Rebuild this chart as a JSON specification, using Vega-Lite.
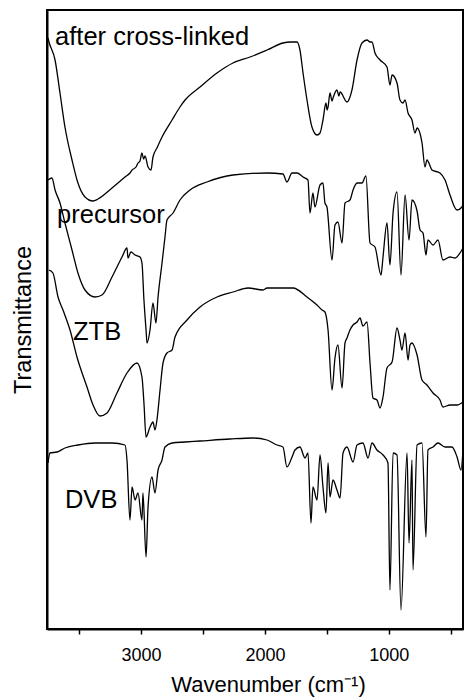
{
  "$schema": "https://vega.github.io/schema/vega-lite/v6.json",
  "width": 416,
  "height": 619,
  "autosize": {"type": "none"},
  "padding": {"left": 47, "top": 10, "right": 1, "bottom": 68},
  "background": "white",
  "config": {
    "view": {"stroke": "black", "strokeWidth": 2},
    "font": "Liberation Sans",
    "axis": {"grid": false, "domainColor": "black", "domainWidth": 2, "tickColor": "black", "labelColor": "black", "titleColor": "black", "titleFontWeight": "normal", "labelFont": "Liberation Sans", "titleFont": "Liberation Sans"}
  },
  "datasets": {
    "spectra": [
      {"sample": "after cross-linked", "wavenumber": 3752, "T": 591},
      {"sample": "after cross-linked", "wavenumber": 3744, "T": 587},
      {"sample": "after cross-linked", "wavenumber": 3695, "T": 569},
      {"sample": "after cross-linked", "wavenumber": 3655, "T": 536},
      {"sample": "after cross-linked", "wavenumber": 3615, "T": 502},
      {"sample": "after cross-linked", "wavenumber": 3558, "T": 469},
      {"sample": "after cross-linked", "wavenumber": 3510, "T": 446},
      {"sample": "after cross-linked", "wavenumber": 3453, "T": 432},
      {"sample": "after cross-linked", "wavenumber": 3388, "T": 428},
      {"sample": "after cross-linked", "wavenumber": 3348, "T": 430},
      {"sample": "after cross-linked", "wavenumber": 3235, "T": 441},
      {"sample": "after cross-linked", "wavenumber": 3130, "T": 452},
      {"sample": "after cross-linked", "wavenumber": 3090, "T": 456},
      {"sample": "after cross-linked", "wavenumber": 3073, "T": 459},
      {"sample": "after cross-linked", "wavenumber": 3041, "T": 462},
      {"sample": "after cross-linked", "wavenumber": 3025, "T": 466},
      {"sample": "after cross-linked", "wavenumber": 3009, "T": 468},
      {"sample": "after cross-linked", "wavenumber": 2993, "T": 476},
      {"sample": "after cross-linked", "wavenumber": 2980, "T": 470},
      {"sample": "after cross-linked", "wavenumber": 2968, "T": 473},
      {"sample": "after cross-linked", "wavenumber": 2944, "T": 462},
      {"sample": "after cross-linked", "wavenumber": 2920, "T": 459},
      {"sample": "after cross-linked", "wavenumber": 2904, "T": 472},
      {"sample": "after cross-linked", "wavenumber": 2872, "T": 481},
      {"sample": "after cross-linked", "wavenumber": 2831, "T": 492},
      {"sample": "after cross-linked", "wavenumber": 2750, "T": 509},
      {"sample": "after cross-linked", "wavenumber": 2686, "T": 522},
      {"sample": "after cross-linked", "wavenumber": 2645, "T": 529},
      {"sample": "after cross-linked", "wavenumber": 2524, "T": 542},
      {"sample": "after cross-linked", "wavenumber": 2387, "T": 556},
      {"sample": "after cross-linked", "wavenumber": 2258, "T": 566},
      {"sample": "after cross-linked", "wavenumber": 2120, "T": 572},
      {"sample": "after cross-linked", "wavenumber": 1983, "T": 579},
      {"sample": "after cross-linked", "wavenumber": 1854, "T": 586},
      {"sample": "after cross-linked", "wavenumber": 1797, "T": 587},
      {"sample": "after cross-linked", "wavenumber": 1741, "T": 587},
      {"sample": "after cross-linked", "wavenumber": 1717, "T": 579},
      {"sample": "after cross-linked", "wavenumber": 1692, "T": 556},
      {"sample": "after cross-linked", "wavenumber": 1660, "T": 529},
      {"sample": "after cross-linked", "wavenumber": 1620, "T": 502},
      {"sample": "after cross-linked", "wavenumber": 1579, "T": 494},
      {"sample": "after cross-linked", "wavenumber": 1555, "T": 496},
      {"sample": "after cross-linked", "wavenumber": 1531, "T": 509},
      {"sample": "after cross-linked", "wavenumber": 1507, "T": 526},
      {"sample": "after cross-linked", "wavenumber": 1498, "T": 519},
      {"sample": "after cross-linked", "wavenumber": 1490, "T": 522},
      {"sample": "after cross-linked", "wavenumber": 1474, "T": 536},
      {"sample": "after cross-linked", "wavenumber": 1458, "T": 528},
      {"sample": "after cross-linked", "wavenumber": 1450, "T": 531},
      {"sample": "after cross-linked", "wavenumber": 1418, "T": 539},
      {"sample": "after cross-linked", "wavenumber": 1402, "T": 533},
      {"sample": "after cross-linked", "wavenumber": 1393, "T": 537},
      {"sample": "after cross-linked", "wavenumber": 1337, "T": 527},
      {"sample": "after cross-linked", "wavenumber": 1297, "T": 539},
      {"sample": "after cross-linked", "wavenumber": 1256, "T": 569},
      {"sample": "after cross-linked", "wavenumber": 1216, "T": 586},
      {"sample": "after cross-linked", "wavenumber": 1175, "T": 589},
      {"sample": "after cross-linked", "wavenumber": 1151, "T": 587},
      {"sample": "after cross-linked", "wavenumber": 1135, "T": 587},
      {"sample": "after cross-linked", "wavenumber": 1111, "T": 576},
      {"sample": "after cross-linked", "wavenumber": 1070, "T": 569},
      {"sample": "after cross-linked", "wavenumber": 1014, "T": 562},
      {"sample": "after cross-linked", "wavenumber": 990, "T": 544},
      {"sample": "after cross-linked", "wavenumber": 973, "T": 554},
      {"sample": "after cross-linked", "wavenumber": 933, "T": 546},
      {"sample": "after cross-linked", "wavenumber": 909, "T": 529},
      {"sample": "after cross-linked", "wavenumber": 885, "T": 526},
      {"sample": "after cross-linked", "wavenumber": 868, "T": 529},
      {"sample": "after cross-linked", "wavenumber": 844, "T": 516},
      {"sample": "after cross-linked", "wavenumber": 812, "T": 509},
      {"sample": "after cross-linked", "wavenumber": 788, "T": 496},
      {"sample": "after cross-linked", "wavenumber": 771, "T": 501},
      {"sample": "after cross-linked", "wavenumber": 731, "T": 486},
      {"sample": "after cross-linked", "wavenumber": 707, "T": 462},
      {"sample": "after cross-linked", "wavenumber": 691, "T": 469},
      {"sample": "after cross-linked", "wavenumber": 650, "T": 459},
      {"sample": "after cross-linked", "wavenumber": 586, "T": 456},
      {"sample": "after cross-linked", "wavenumber": 545, "T": 449},
      {"sample": "after cross-linked", "wavenumber": 505, "T": 434},
      {"sample": "after cross-linked", "wavenumber": 448, "T": 419},
      {"sample": "after cross-linked", "wavenumber": 408, "T": 422},
      {"sample": "after cross-linked", "wavenumber": 400, "T": 426},

      {"sample": "precursor", "wavenumber": 3752, "T": 449},
      {"sample": "precursor", "wavenumber": 3720, "T": 451},
      {"sample": "precursor", "wavenumber": 3695, "T": 439},
      {"sample": "precursor", "wavenumber": 3655, "T": 426},
      {"sample": "precursor", "wavenumber": 3615, "T": 406},
      {"sample": "precursor", "wavenumber": 3558, "T": 379},
      {"sample": "precursor", "wavenumber": 3510, "T": 356},
      {"sample": "precursor", "wavenumber": 3453, "T": 339},
      {"sample": "precursor", "wavenumber": 3372, "T": 332},
      {"sample": "precursor", "wavenumber": 3316, "T": 334},
      {"sample": "precursor", "wavenumber": 3235, "T": 352},
      {"sample": "precursor", "wavenumber": 3154, "T": 372},
      {"sample": "precursor", "wavenumber": 3114, "T": 381},
      {"sample": "precursor", "wavenumber": 3106, "T": 371},
      {"sample": "precursor", "wavenumber": 3082, "T": 377},
      {"sample": "precursor", "wavenumber": 3049, "T": 374},
      {"sample": "precursor", "wavenumber": 3009, "T": 372},
      {"sample": "precursor", "wavenumber": 2993, "T": 366},
      {"sample": "precursor", "wavenumber": 2977, "T": 329},
      {"sample": "precursor", "wavenumber": 2960, "T": 299},
      {"sample": "precursor", "wavenumber": 2952, "T": 286},
      {"sample": "precursor", "wavenumber": 2928, "T": 299},
      {"sample": "precursor", "wavenumber": 2904, "T": 326},
      {"sample": "precursor", "wavenumber": 2880, "T": 306},
      {"sample": "precursor", "wavenumber": 2863, "T": 332},
      {"sample": "precursor", "wavenumber": 2831, "T": 366},
      {"sample": "precursor", "wavenumber": 2807, "T": 392},
      {"sample": "precursor", "wavenumber": 2791, "T": 409},
      {"sample": "precursor", "wavenumber": 2742, "T": 416},
      {"sample": "precursor", "wavenumber": 2686, "T": 429},
      {"sample": "precursor", "wavenumber": 2605, "T": 439},
      {"sample": "precursor", "wavenumber": 2468, "T": 447},
      {"sample": "precursor", "wavenumber": 2258, "T": 454},
      {"sample": "precursor", "wavenumber": 1983, "T": 456},
      {"sample": "precursor", "wavenumber": 1854, "T": 455},
      {"sample": "precursor", "wavenumber": 1822, "T": 447},
      {"sample": "precursor", "wavenumber": 1781, "T": 456},
      {"sample": "precursor", "wavenumber": 1741, "T": 456},
      {"sample": "precursor", "wavenumber": 1692, "T": 452},
      {"sample": "precursor", "wavenumber": 1652, "T": 449},
      {"sample": "precursor", "wavenumber": 1636, "T": 416},
      {"sample": "precursor", "wavenumber": 1612, "T": 436},
      {"sample": "precursor", "wavenumber": 1596, "T": 422},
      {"sample": "precursor", "wavenumber": 1555, "T": 444},
      {"sample": "precursor", "wavenumber": 1531, "T": 446},
      {"sample": "precursor", "wavenumber": 1515, "T": 426},
      {"sample": "precursor", "wavenumber": 1499, "T": 422},
      {"sample": "precursor", "wavenumber": 1458, "T": 369},
      {"sample": "precursor", "wavenumber": 1434, "T": 404},
      {"sample": "precursor", "wavenumber": 1410, "T": 407},
      {"sample": "precursor", "wavenumber": 1377, "T": 386},
      {"sample": "precursor", "wavenumber": 1353, "T": 426},
      {"sample": "precursor", "wavenumber": 1313, "T": 429},
      {"sample": "precursor", "wavenumber": 1288, "T": 439},
      {"sample": "precursor", "wavenumber": 1256, "T": 446},
      {"sample": "precursor", "wavenumber": 1216, "T": 446},
      {"sample": "precursor", "wavenumber": 1184, "T": 453},
      {"sample": "precursor", "wavenumber": 1151, "T": 386},
      {"sample": "precursor", "wavenumber": 1111, "T": 382},
      {"sample": "precursor", "wavenumber": 1062, "T": 354},
      {"sample": "precursor", "wavenumber": 1046, "T": 372},
      {"sample": "precursor", "wavenumber": 1014, "T": 406},
      {"sample": "precursor", "wavenumber": 990, "T": 364},
      {"sample": "precursor", "wavenumber": 965, "T": 416},
      {"sample": "precursor", "wavenumber": 933, "T": 437},
      {"sample": "precursor", "wavenumber": 901, "T": 354},
      {"sample": "precursor", "wavenumber": 868, "T": 434},
      {"sample": "precursor", "wavenumber": 836, "T": 389},
      {"sample": "precursor", "wavenumber": 812, "T": 429},
      {"sample": "precursor", "wavenumber": 771, "T": 418},
      {"sample": "precursor", "wavenumber": 747, "T": 399},
      {"sample": "precursor", "wavenumber": 723, "T": 396},
      {"sample": "precursor", "wavenumber": 699, "T": 374},
      {"sample": "precursor", "wavenumber": 683, "T": 389},
      {"sample": "precursor", "wavenumber": 642, "T": 384},
      {"sample": "precursor", "wavenumber": 602, "T": 389},
      {"sample": "precursor", "wavenumber": 562, "T": 369},
      {"sample": "precursor", "wavenumber": 505, "T": 372},
      {"sample": "precursor", "wavenumber": 464, "T": 371},
      {"sample": "precursor", "wavenumber": 424, "T": 376},
      {"sample": "precursor", "wavenumber": 400, "T": 381},

      {"sample": "ZTB", "wavenumber": 3744, "T": 359},
      {"sample": "ZTB", "wavenumber": 3712, "T": 356},
      {"sample": "ZTB", "wavenumber": 3671, "T": 332},
      {"sample": "ZTB", "wavenumber": 3631, "T": 319},
      {"sample": "ZTB", "wavenumber": 3574, "T": 299},
      {"sample": "ZTB", "wavenumber": 3518, "T": 272},
      {"sample": "ZTB", "wavenumber": 3437, "T": 242},
      {"sample": "ZTB", "wavenumber": 3388, "T": 224},
      {"sample": "ZTB", "wavenumber": 3332, "T": 213},
      {"sample": "ZTB", "wavenumber": 3275, "T": 216},
      {"sample": "ZTB", "wavenumber": 3195, "T": 236},
      {"sample": "ZTB", "wavenumber": 3114, "T": 256},
      {"sample": "ZTB", "wavenumber": 3033, "T": 266},
      {"sample": "ZTB", "wavenumber": 2993, "T": 252},
      {"sample": "ZTB", "wavenumber": 2977, "T": 226},
      {"sample": "ZTB", "wavenumber": 2960, "T": 192},
      {"sample": "ZTB", "wavenumber": 2928, "T": 202},
      {"sample": "ZTB", "wavenumber": 2904, "T": 207},
      {"sample": "ZTB", "wavenumber": 2888, "T": 199},
      {"sample": "ZTB", "wavenumber": 2872, "T": 209},
      {"sample": "ZTB", "wavenumber": 2847, "T": 239},
      {"sample": "ZTB", "wavenumber": 2823, "T": 266},
      {"sample": "ZTB", "wavenumber": 2791, "T": 276},
      {"sample": "ZTB", "wavenumber": 2750, "T": 279},
      {"sample": "ZTB", "wavenumber": 2726, "T": 292},
      {"sample": "ZTB", "wavenumber": 2629, "T": 309},
      {"sample": "ZTB", "wavenumber": 2524, "T": 322},
      {"sample": "ZTB", "wavenumber": 2387, "T": 332},
      {"sample": "ZTB", "wavenumber": 2258, "T": 337},
      {"sample": "ZTB", "wavenumber": 2136, "T": 341},
      {"sample": "ZTB", "wavenumber": 2015, "T": 339},
      {"sample": "ZTB", "wavenumber": 1983, "T": 341},
      {"sample": "ZTB", "wavenumber": 1773, "T": 341},
      {"sample": "ZTB", "wavenumber": 1660, "T": 332},
      {"sample": "ZTB", "wavenumber": 1579, "T": 324},
      {"sample": "ZTB", "wavenumber": 1539, "T": 319},
      {"sample": "ZTB", "wavenumber": 1515, "T": 317},
      {"sample": "ZTB", "wavenumber": 1490, "T": 299},
      {"sample": "ZTB", "wavenumber": 1458, "T": 239},
      {"sample": "ZTB", "wavenumber": 1434, "T": 271},
      {"sample": "ZTB", "wavenumber": 1410, "T": 284},
      {"sample": "ZTB", "wavenumber": 1377, "T": 241},
      {"sample": "ZTB", "wavenumber": 1353, "T": 286},
      {"sample": "ZTB", "wavenumber": 1337, "T": 291},
      {"sample": "ZTB", "wavenumber": 1313, "T": 299},
      {"sample": "ZTB", "wavenumber": 1288, "T": 304},
      {"sample": "ZTB", "wavenumber": 1256, "T": 307},
      {"sample": "ZTB", "wavenumber": 1232, "T": 311},
      {"sample": "ZTB", "wavenumber": 1208, "T": 303},
      {"sample": "ZTB", "wavenumber": 1175, "T": 307},
      {"sample": "ZTB", "wavenumber": 1151, "T": 266},
      {"sample": "ZTB", "wavenumber": 1127, "T": 231},
      {"sample": "ZTB", "wavenumber": 1095, "T": 229},
      {"sample": "ZTB", "wavenumber": 1070, "T": 221},
      {"sample": "ZTB", "wavenumber": 1046, "T": 232},
      {"sample": "ZTB", "wavenumber": 1014, "T": 261},
      {"sample": "ZTB", "wavenumber": 973, "T": 267},
      {"sample": "ZTB", "wavenumber": 933, "T": 301},
      {"sample": "ZTB", "wavenumber": 909, "T": 289},
      {"sample": "ZTB", "wavenumber": 893, "T": 279},
      {"sample": "ZTB", "wavenumber": 868, "T": 296},
      {"sample": "ZTB", "wavenumber": 844, "T": 269},
      {"sample": "ZTB", "wavenumber": 828, "T": 284},
      {"sample": "ZTB", "wavenumber": 812, "T": 286},
      {"sample": "ZTB", "wavenumber": 771, "T": 274},
      {"sample": "ZTB", "wavenumber": 731, "T": 249},
      {"sample": "ZTB", "wavenumber": 691, "T": 244},
      {"sample": "ZTB", "wavenumber": 642, "T": 236},
      {"sample": "ZTB", "wavenumber": 586, "T": 229},
      {"sample": "ZTB", "wavenumber": 562, "T": 222},
      {"sample": "ZTB", "wavenumber": 505, "T": 224},
      {"sample": "ZTB", "wavenumber": 448, "T": 224},
      {"sample": "ZTB", "wavenumber": 400, "T": 227},

      {"sample": "DVB", "wavenumber": 3752, "T": 166},
      {"sample": "DVB", "wavenumber": 3736, "T": 176},
      {"sample": "DVB", "wavenumber": 3679, "T": 177},
      {"sample": "DVB", "wavenumber": 3615, "T": 181},
      {"sample": "DVB", "wavenumber": 3510, "T": 184},
      {"sample": "DVB", "wavenumber": 3372, "T": 186},
      {"sample": "DVB", "wavenumber": 3235, "T": 186},
      {"sample": "DVB", "wavenumber": 3130, "T": 184},
      {"sample": "DVB", "wavenumber": 3114, "T": 169},
      {"sample": "DVB", "wavenumber": 3090, "T": 109},
      {"sample": "DVB", "wavenumber": 3073, "T": 142},
      {"sample": "DVB", "wavenumber": 3049, "T": 129},
      {"sample": "DVB", "wavenumber": 3025, "T": 136},
      {"sample": "DVB", "wavenumber": 2993, "T": 109},
      {"sample": "DVB", "wavenumber": 2985, "T": 136},
      {"sample": "DVB", "wavenumber": 2960, "T": 72},
      {"sample": "DVB", "wavenumber": 2944, "T": 122},
      {"sample": "DVB", "wavenumber": 2912, "T": 152},
      {"sample": "DVB", "wavenumber": 2888, "T": 136},
      {"sample": "DVB", "wavenumber": 2863, "T": 159},
      {"sample": "DVB", "wavenumber": 2831, "T": 169},
      {"sample": "DVB", "wavenumber": 2807, "T": 182},
      {"sample": "DVB", "wavenumber": 2750, "T": 186},
      {"sample": "DVB", "wavenumber": 2645, "T": 187},
      {"sample": "DVB", "wavenumber": 2524, "T": 188},
      {"sample": "DVB", "wavenumber": 2282, "T": 190},
      {"sample": "DVB", "wavenumber": 2096, "T": 191},
      {"sample": "DVB", "wavenumber": 1983, "T": 189},
      {"sample": "DVB", "wavenumber": 1902, "T": 184},
      {"sample": "DVB", "wavenumber": 1854, "T": 182},
      {"sample": "DVB", "wavenumber": 1822, "T": 162},
      {"sample": "DVB", "wavenumber": 1781, "T": 172},
      {"sample": "DVB", "wavenumber": 1757, "T": 179},
      {"sample": "DVB", "wavenumber": 1717, "T": 182},
      {"sample": "DVB", "wavenumber": 1676, "T": 171},
      {"sample": "DVB", "wavenumber": 1652, "T": 176},
      {"sample": "DVB", "wavenumber": 1628, "T": 106},
      {"sample": "DVB", "wavenumber": 1612, "T": 142},
      {"sample": "DVB", "wavenumber": 1579, "T": 129},
      {"sample": "DVB", "wavenumber": 1555, "T": 174},
      {"sample": "DVB", "wavenumber": 1531, "T": 142},
      {"sample": "DVB", "wavenumber": 1507, "T": 116},
      {"sample": "DVB", "wavenumber": 1490, "T": 166},
      {"sample": "DVB", "wavenumber": 1474, "T": 132},
      {"sample": "DVB", "wavenumber": 1450, "T": 149},
      {"sample": "DVB", "wavenumber": 1418, "T": 139},
      {"sample": "DVB", "wavenumber": 1393, "T": 131},
      {"sample": "DVB", "wavenumber": 1369, "T": 176},
      {"sample": "DVB", "wavenumber": 1337, "T": 182},
      {"sample": "DVB", "wavenumber": 1288, "T": 167},
      {"sample": "DVB", "wavenumber": 1256, "T": 184},
      {"sample": "DVB", "wavenumber": 1208, "T": 186},
      {"sample": "DVB", "wavenumber": 1167, "T": 171},
      {"sample": "DVB", "wavenumber": 1135, "T": 186},
      {"sample": "DVB", "wavenumber": 1095, "T": 179},
      {"sample": "DVB", "wavenumber": 1046, "T": 174},
      {"sample": "DVB", "wavenumber": 1006, "T": 166},
      {"sample": "DVB", "wavenumber": 990, "T": 39},
      {"sample": "DVB", "wavenumber": 965, "T": 176},
      {"sample": "DVB", "wavenumber": 933, "T": 174},
      {"sample": "DVB", "wavenumber": 901, "T": 19},
      {"sample": "DVB", "wavenumber": 852, "T": 176},
      {"sample": "DVB", "wavenumber": 836, "T": 86},
      {"sample": "DVB", "wavenumber": 812, "T": 169},
      {"sample": "DVB", "wavenumber": 804, "T": 59},
      {"sample": "DVB", "wavenumber": 771, "T": 184},
      {"sample": "DVB", "wavenumber": 731, "T": 186},
      {"sample": "DVB", "wavenumber": 699, "T": 92},
      {"sample": "DVB", "wavenumber": 683, "T": 179},
      {"sample": "DVB", "wavenumber": 642, "T": 182},
      {"sample": "DVB", "wavenumber": 602, "T": 186},
      {"sample": "DVB", "wavenumber": 545, "T": 182},
      {"sample": "DVB", "wavenumber": 489, "T": 182},
      {"sample": "DVB", "wavenumber": 448, "T": 172},
      {"sample": "DVB", "wavenumber": 416, "T": 159},
      {"sample": "DVB", "wavenumber": 400, "T": 179}
    ],
    "labels": [
      {"sample": "after cross-linked", "wavenumber": 3695, "T": 584},
      {"sample": "precursor", "wavenumber": 3679, "T": 406},
      {"sample": "ZTB", "wavenumber": 3550, "T": 289},
      {"sample": "DVB", "wavenumber": 3615, "T": 121}
    ]
  },
  "encoding": {
    "x": {
      "field": "wavenumber",
      "type": "quantitative",
      "scale": {"domain": [400, 3760], "reverse": true, "nice": false, "zero": false},
      "axis": {
        "title": "Wavenumber (cm⁻¹)",
        "titleFontSize": 22,
        "titlePadding": 10,
        "titleX": 221,
        "values": [3500, 3000, 2500, 2000, 1500, 1000, 500],
        "format": "d",
        "labelExpr": "datum.value % 1000 === 0 ? datum.label : ''",
        "labelFontSize": 18,
        "labelPadding": 12,
        "tickSize": 5,
        "tickWidth": 1.5
      }
    },
    "y": {
      "field": "T",
      "type": "quantitative",
      "scale": {"domain": [0, 619], "nice": false, "zero": false},
      "axis": {
        "title": "Transmittance",
        "titleFontSize": 23.5,
        "titlePadding": 12,
        "labels": false,
        "ticks": false
      }
    }
  },
  "layer": [
    {
      "data": {"name": "spectra"},
      "mark": {"type": "line", "color": "black", "strokeWidth": 1.3, "interpolate": "monotone"},
      "encoding": {"detail": {"field": "sample", "type": "nominal"}}
    },
    {
      "data": {"name": "labels"},
      "mark": {"type": "text", "align": "left", "baseline": "alphabetic", "fontSize": 25.5, "font": "Liberation Sans", "color": "black"},
      "encoding": {"text": {"field": "sample", "type": "nominal"}}
    }
  ]
}
